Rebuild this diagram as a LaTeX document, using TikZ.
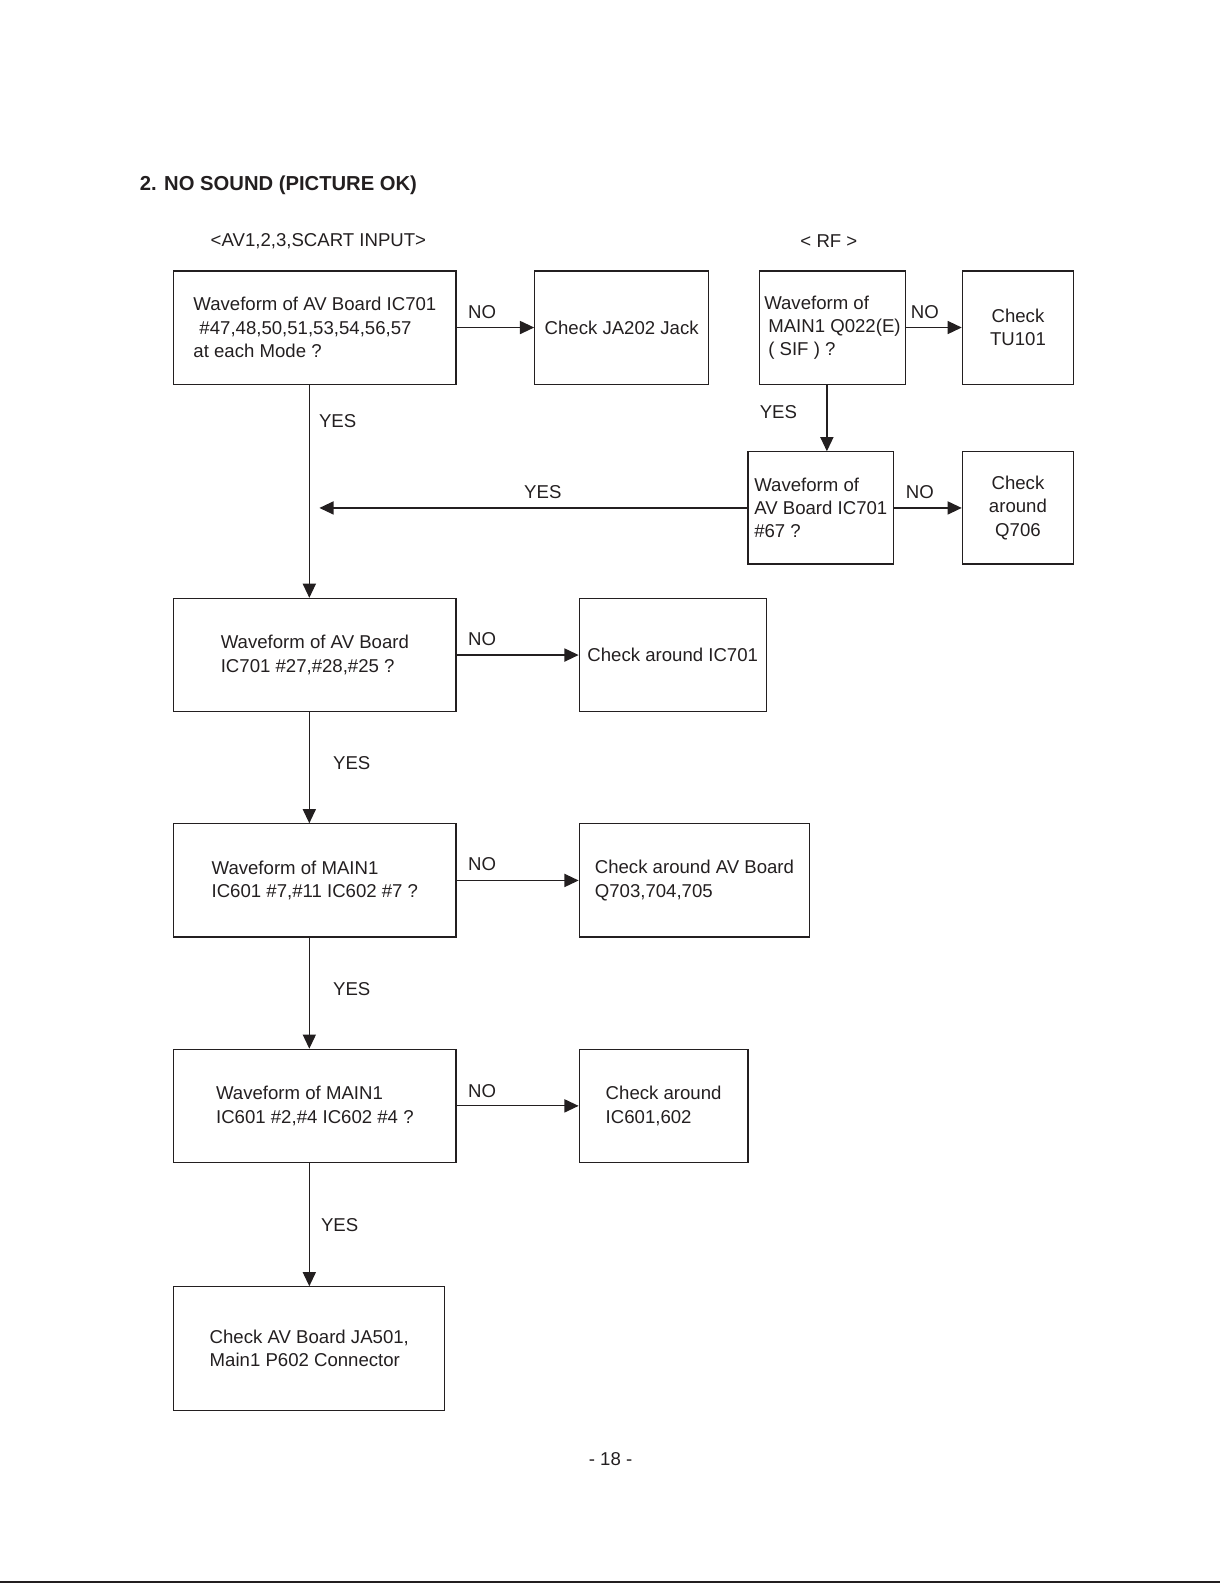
\documentclass[tikz,border=0pt]{standalone}
\usepackage{fontspec}
\setmainfont{Liberation Sans}
\usetikzlibrary{arrows.meta}
\definecolor{ink}{HTML}{231F20}
\tikzset{
  box/.style={draw=ink, text=ink, line width=0.6pt, align=left, inner sep=2pt,
    font=\fontsize{9.2}{11.5}\selectfont},
  lbl/.style={text=ink, inner sep=0pt, font=\fontsize{9.2}{11.5}\selectfont},
  arr/.style={-{Triangle[length=7pt,width=6.5pt]}, draw=ink, line width=0.6pt},
}

\begin{document}
\begin{tikzpicture}[x=0.5pt,y=-0.5pt]
  \useasboundingbox (0,0) rectangle (1207,1566);
  % headings
  \node[anchor=west, inner sep=0pt, text=ink, font=\fontsize{10}{12}\selectfont\bfseries] (title) at (138,183) {2. NO SOUND (PICTURE OK)};
  \node[lbl] (avhead) at (315,239) {<AV1,2,3,SCART INPUT>};
  \node[lbl] (rfhead) at (820,239) {< RF >};
  \coordinate (spine) at (306,0);
  \coordinate (rfx) at (818,0);
  % AV branch
  \node[box, minimum width=139.5pt, minimum height=56pt] (avin) at (311.5,324)
    {Waveform of  AV Board  IC701\\\hspace{3pt}\#47,48,50,51,53,54,56,57\\at each Mode ?};
  \node[box, minimum width=86pt, minimum height=56pt] (jack) at (615,324) {Check JA202 Jack};
  \node[box, minimum width=139.5pt, minimum height=56pt] (ictest) at (311.5,648)
    {Waveform of  AV Board\\IC701 \#27,\#28,\#25 ?};
  \node[box, minimum width=92.5pt, minimum height=56pt] (icchk) at (665.5,648) {Check around IC701};
  \node[box, minimum width=139.5pt, minimum height=56pt] (mainA) at (311.5,871)
    {Waveform of  MAIN1\\IC601 \#7,\#11 IC602  \#7 ?};
  \node[box, minimum width=114pt, minimum height=56pt] (qchk) at (687,871)
    {Check around AV Board\\Q703,704,705};
  \node[box, minimum width=139.5pt, minimum height=56pt] (mainB) at (311.5,1094)
    {Waveform of  MAIN1\\IC601 \#2,\#4 IC602 \#4 ?};
  \node[box, minimum width=83.5pt, minimum height=56pt] (mainchk) at (656.5,1094)
    {Check around\\IC601,602};
  \node[box, minimum width=134pt, minimum height=61pt] (conn) at (306,1334)
    {Check AV Board  JA501,\\Main1 P602 Connector};
  % RF branch
  \node[box, minimum width=72.5pt, minimum height=56pt] (sif) at (823.5,324)
    {Waveform of\\\hspace{2pt}MAIN1 Q022(E)\\\hspace{2pt}( SIF ) ?};
  \node[box, minimum width=55pt, minimum height=56pt, align=center] (tuner) at (1007,324) {Check\\TU101};
  \node[box, minimum width=72pt, minimum height=55.5pt] (rfic) at (812,502.5)
    {Waveform of\\AV Board IC701\\\#67 ?};
  \node[box, minimum width=55pt, minimum height=55.5pt, align=center] (qsix) at (1007,502.5) {Check\\around\\Q706};

  % connectors
  \draw[arr] (avin.east) -- (jack.west);
  \draw[arr] (avin.south -| spine) -- (ictest.north -| spine);
  \draw[arr] (ictest.east) -- (icchk.west);
  \draw[arr] (ictest.south -| spine) -- (mainA.north -| spine);
  \draw[arr] (mainA.east) -- (qchk.west);
  \draw[arr] (mainA.south -| spine) -- (mainB.north -| spine);
  \draw[arr] (mainB.east) -- (mainchk.west);
  \draw[arr] (mainB.south -| spine) -- (conn.north -| spine);
  \draw[arr] (sif.east) -- (tuner.west);
  \draw[arr] (sif.south -| rfx) -- (rfic.north -| rfx);
  \draw[arr] (rfic.east) -- (qsix.west);
  \draw[arr, shorten >=5pt] (rfic.west) -- (rfic.west -| spine);

  % labels
  \node[lbl] (no1) at (477,309) {NO};
  \node[lbl] (yes1) at (334,417) {YES};
  \node[lbl] (no2) at (915,309) {NO};
  \node[lbl] (yes2) at (770,408) {YES};
  \node[lbl] (no3) at (910,487) {NO};
  \node[lbl] (yes3) at (537,487) {YES};
  \node[lbl] (no4) at (477,632) {NO};
  \node[lbl] (yes4) at (348,755) {YES};
  \node[lbl] (no5) at (477,855) {NO};
  \node[lbl] (yes5) at (348,978) {YES};
  \node[lbl] (no6) at (477,1079) {NO};
  \node[lbl] (yes6) at (336,1212) {YES};

  \node[lbl] (page) at (604,1443) {-  18  -};
  \draw[ink, line width=1pt] (0,1565) -- (1207,1565);
\end{tikzpicture}
\end{document}
